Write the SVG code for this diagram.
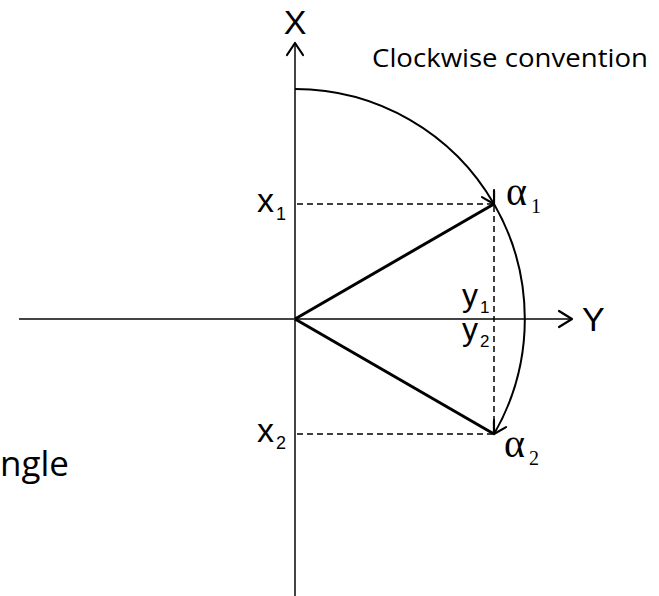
<svg xmlns="http://www.w3.org/2000/svg" width="659" height="596" viewBox="0 0 659 596">
<style>
.axis{stroke:#444;stroke-width:2;fill:none}
.ray{stroke:#000;stroke-width:3;fill:none}
.arc{stroke:#000;stroke-width:2;fill:none}
.dash{stroke:#000;stroke-width:1.5;fill:none;stroke-dasharray:6 4}
.head{stroke:#000;stroke-width:2.2;fill:none;stroke-linecap:round;stroke-linejoin:round}
.sans{font-family:"Liberation Sans",Arial,sans-serif;fill:#000}
.serif{font-family:"Liberation Serif","Times New Roman",serif;fill:#000}
.cal{font-family:"Open Sans","Noto Sans",sans-serif;fill:#000}
</style>
<defs>
<marker id="arr" viewBox="-14 -8 16 16" markerWidth="16" markerHeight="16" refX="0" refY="0" orient="auto" markerUnits="userSpaceOnUse">
<path d="M-12,-7 L0,0 L-12,7" stroke="#000" stroke-width="2.2" fill="none" stroke-linecap="round" stroke-linejoin="round"/>
</marker>
</defs>
<g id="connectors">
<g id="x-axis"><line class="axis" x1="295" y1="43" x2="295" y2="596"/><path class="head" d="M287,55 L295,43 L303,55"/></g>
<g id="y-axis"><line class="axis" x1="19" y1="319" x2="571" y2="319"/><path class="head" d="M559,311 L572,319 L559,327"/></g>
<path id="arc1" class="arc" d="M295,89 A230,230 0 0 1 494,204" marker-end="url(#arr)"/>
<path id="arc2" class="arc" d="M494,204 A230,230 0 0 1 494,434" marker-end="url(#arr)"/>
<line class="ray" x1="295" y1="319" x2="494" y2="204"/>
<line class="ray" x1="295" y1="319" x2="494" y2="434"/>
<line class="dash" x1="297" y1="204" x2="492" y2="204"/>
<line class="dash" x1="297" y1="434" x2="492" y2="434"/>
<line class="dash" x1="494" y1="206" x2="494" y2="432"/>
</g>
<g id="label-X"><text class="sans" x="295" y="34" font-size="34" text-anchor="middle">X</text></g>
<g id="label-Y"><text class="sans" x="582" y="331" font-size="34">Y</text></g>
<g id="label-title"><text class="cal" x="372" y="67" font-size="25" textLength="276" lengthAdjust="spacingAndGlyphs">Clockwise convention</text></g>
<g id="label-x1"><text class="sans" x="257" y="212" font-size="34">x</text><text class="sans" x="276" y="220" font-size="18">1</text></g>
<g id="label-x2"><text class="sans" x="257" y="442" font-size="34">x</text><text class="sans" x="276" y="449" font-size="18">2</text></g>
<g id="label-y1"><text class="sans" x="462" y="306" font-size="32">y</text><text class="sans" x="480" y="313" font-size="17">1</text></g>
<g id="label-y2"><text class="sans" x="462" y="340" font-size="32">y</text><text class="sans" x="480" y="347" font-size="17">2</text></g>
<g id="label-a1"><text class="serif" x="506" y="205" font-size="40">α</text><text class="serif" x="531" y="213" font-size="20">1</text></g>
<g id="label-a2"><text class="serif" x="504" y="457" font-size="40">α</text><text class="serif" x="529" y="465" font-size="20">2</text></g>
<g id="label-angle"><text class="cal" x="0" y="476" font-size="35">ngle</text></g>
</svg>
